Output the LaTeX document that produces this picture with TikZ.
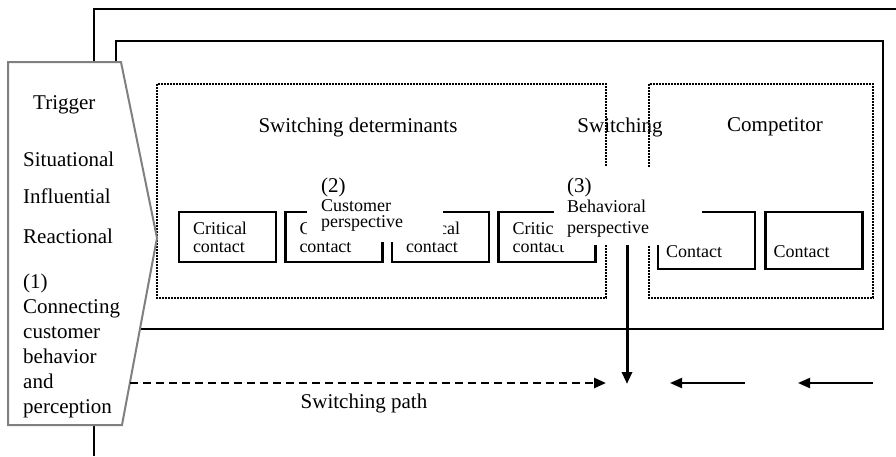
\documentclass[tikz,border=0pt]{standalone}
\usepackage{fontspec}
\setmainfont{Liberation Serif}
\usetikzlibrary{arrows.meta}
\newcommand\figbig{\fontsize{21}{25}\selectfont}
\newcommand\figsmall{\fontsize{18}{18}\selectfont}
\tikzset{
  frame/.style={line width=2pt},
  zone/.style={line width=1.8pt,dash pattern=on 2pt off 1pt},
  contact/.style={draw,line width=2.4pt,minimum width=97pt,minimum height=50pt,
    inner xsep=14pt,inner ysep=0pt,text width=69pt,align=left,font=\figsmall},
  rival/.style={draw,line width=2.4pt,minimum width=97pt,minimum height=57pt},
  trig/.style={draw=black!50,line width=2pt,fill=white},
  mask/.style={fill=white,inner sep=0pt,anchor=north west},
  big/.style={font=\figbig,inner sep=0pt},
  small/.style={font=\figsmall,inner sep=0pt},
}
\begin{document}
\begin{tikzpicture}[x=1pt,y=-1pt,>={Triangle[length=12pt,width=10pt]}]
\useasboundingbox(0,0)rectangle(896,456);
\draw[frame](896,9)--(94,9)--(94,456);
\draw[frame](116,41)rectangle(883,329);
\draw[zone](157,84)rectangle(606,298);
\draw[zone](649,84)rectangle(873,298);
\foreach \x/\n in {227.5/1,334/2,440.5/3,547/4}
\node[contact](c\n)at(\x,237){Critical\\contact};
\node[rival](k1)at(706.5,240.5){};
\node[rival](k2)at(814,240.5){};
\node[small,anchor=west](k1t)at([xshift=9pt,yshift=-11.5pt]k1.west){Contact};
\node[small,anchor=west](k2t)at([xshift=9pt,yshift=-11.5pt]k2.west){Contact};
% trigger panel
\draw[trig](8,62)--(121,62)--(157,238)--(122,425)--(8,425)--cycle;
\node[big,anchor=west](trigger)at(33,105){Trigger};
\node[big,anchor=west](situ)at(23,159){Situational};
\node[big,anchor=west](infl)at(23,196){Influential};
\node[big,anchor=west](react)at(23,236){Reactional};
\node[big,anchor=west,align=left](conn)at(23,345.5)
{(1)\\Connecting\\customer\\behavior\\and\\perception};
\node[big](det)at(358,127){Switching determinants};
\node[big](sw)at(620,127){Switching};
\node[big](comp)at(775,127){Competitor};
% perspectives
\node[mask,minimum width=136pt,minimum height=67pt](p2)at(307,175){};
\node[big,anchor=west](p2n)at(321,187){(2)};
\node[small,anchor=west,align=left,font=\fontsize{18}{16}\selectfont](p2t)at(321,215){Customer\\perspective};
\node[mask,minimum width=148pt,minimum height=78pt](p3)at(554,167){};
\node[big,anchor=west](p3n)at(567,187){(3)};
\node[small,anchor=west,align=left,font=\fontsize{18}{21}\selectfont](p3t)at(567,218.5){Behavioral\\perspective};
% switching path
\coordinate(meet)at(627,384);
\coordinate(pstart)at(130,383);
\coordinate(pend)at(606,383);
\draw[->,line width=3pt](p3.south-|meet)--(meet);
\draw[->,line width=2.5pt,dash pattern=on 8pt off 5pt](pstart)--(pend);
\coordinate(r1a)at(745,383);\coordinate(r1b)at(670,383);
\coordinate(r2a)at(873,383);\coordinate(r2b)at(798,383);
\draw[->,line width=2pt](r1a)--(r1b);
\draw[->,line width=2pt](r2a)--(r2b);
\node[big](path)at(364,403){Switching path};
\end{tikzpicture}
\end{document}
